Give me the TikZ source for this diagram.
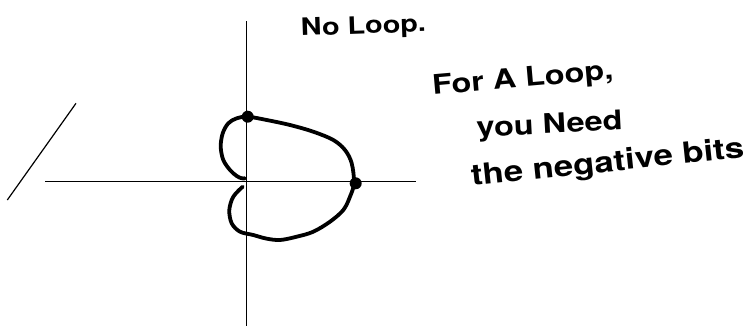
\documentclass[tikz,border=0pt]{standalone}
\usepackage{fontspec}
\usepackage{tikz}
\usetikzlibrary{positioning,calc}
\newfontfamily\handfont[FakeStretch=1.2]{TeX Gyre Heros}
\tikzset{
  axis/.style={line width=1.3pt,color=black},
  slash/.style={line width=1.2pt,color=black},
  curve/.style={line width=3.8pt,color=black,line cap=round,line join=round},
  dot/.style={circle,fill=black,inner sep=0pt,minimum size=12pt},
  note/.style={anchor=base west,inner sep=0pt,font=\fontsize{#1}{#1}\selectfont\handfont\bfseries},
  note/.default=28
}

\begin{document}
\begin{tikzpicture}[x=1pt,y=-1pt]
    \useasboundingbox (0,0) rectangle (754,327);
    % axes
    \coordinate (xl) at (45,181.7);
    \coordinate (xr) at (416,181.7);
    \coordinate (yt) at (246.7,21);
    \coordinate (yb) at (246.7,326);
    \draw[axis] (xl) -- (xr);
    \draw[axis] (yt) -- (yb);
    \coordinate (sa) at (76,103.3);
    \coordinate (sb) at (7.3,200);
    \draw[slash] (sa) -- (sb);

    % the curve, no loop
    \draw[curve] plot[smooth,tension=0.55] coordinates {
      (245,178.3) (241.7,178.3) (236.7,176) (230,170) (223.3,160) (220.7,146.7)
      (222.7,133.3) (228.3,123.3) (236.7,118.3) (247.7,116.7) (266.7,120)
      (290,125) (313.3,131.7) (333.3,140) (345,150) (351.7,163.3) (354,183)
      (350,196.7) (343.3,210) (330,221.7) (313.3,231.7) (296.7,236.7) (280,240)
      (266,238.5) (253.3,235) (240,231.7) (231.7,223.3) (229.3,210) (233.3,196.7)
      (242.7,186.7)};
    \node[dot] (top) at (247.7,116.7) {};
    \node[dot] (right) at (355.7,183.3) {};

    \node[note=24,rotate=2] (noloop) at (301,36) {No Loop.};
    \node[note=27,rotate=5] (forloop) at (433,95) {For A Loop,};
    \node[note=27,rotate=3] (need) at (477,137) {you Need};
    \node[note=29,rotate=6] (negbits) at (472,186) {the negative bits};
  \end{tikzpicture}
\end{document}
